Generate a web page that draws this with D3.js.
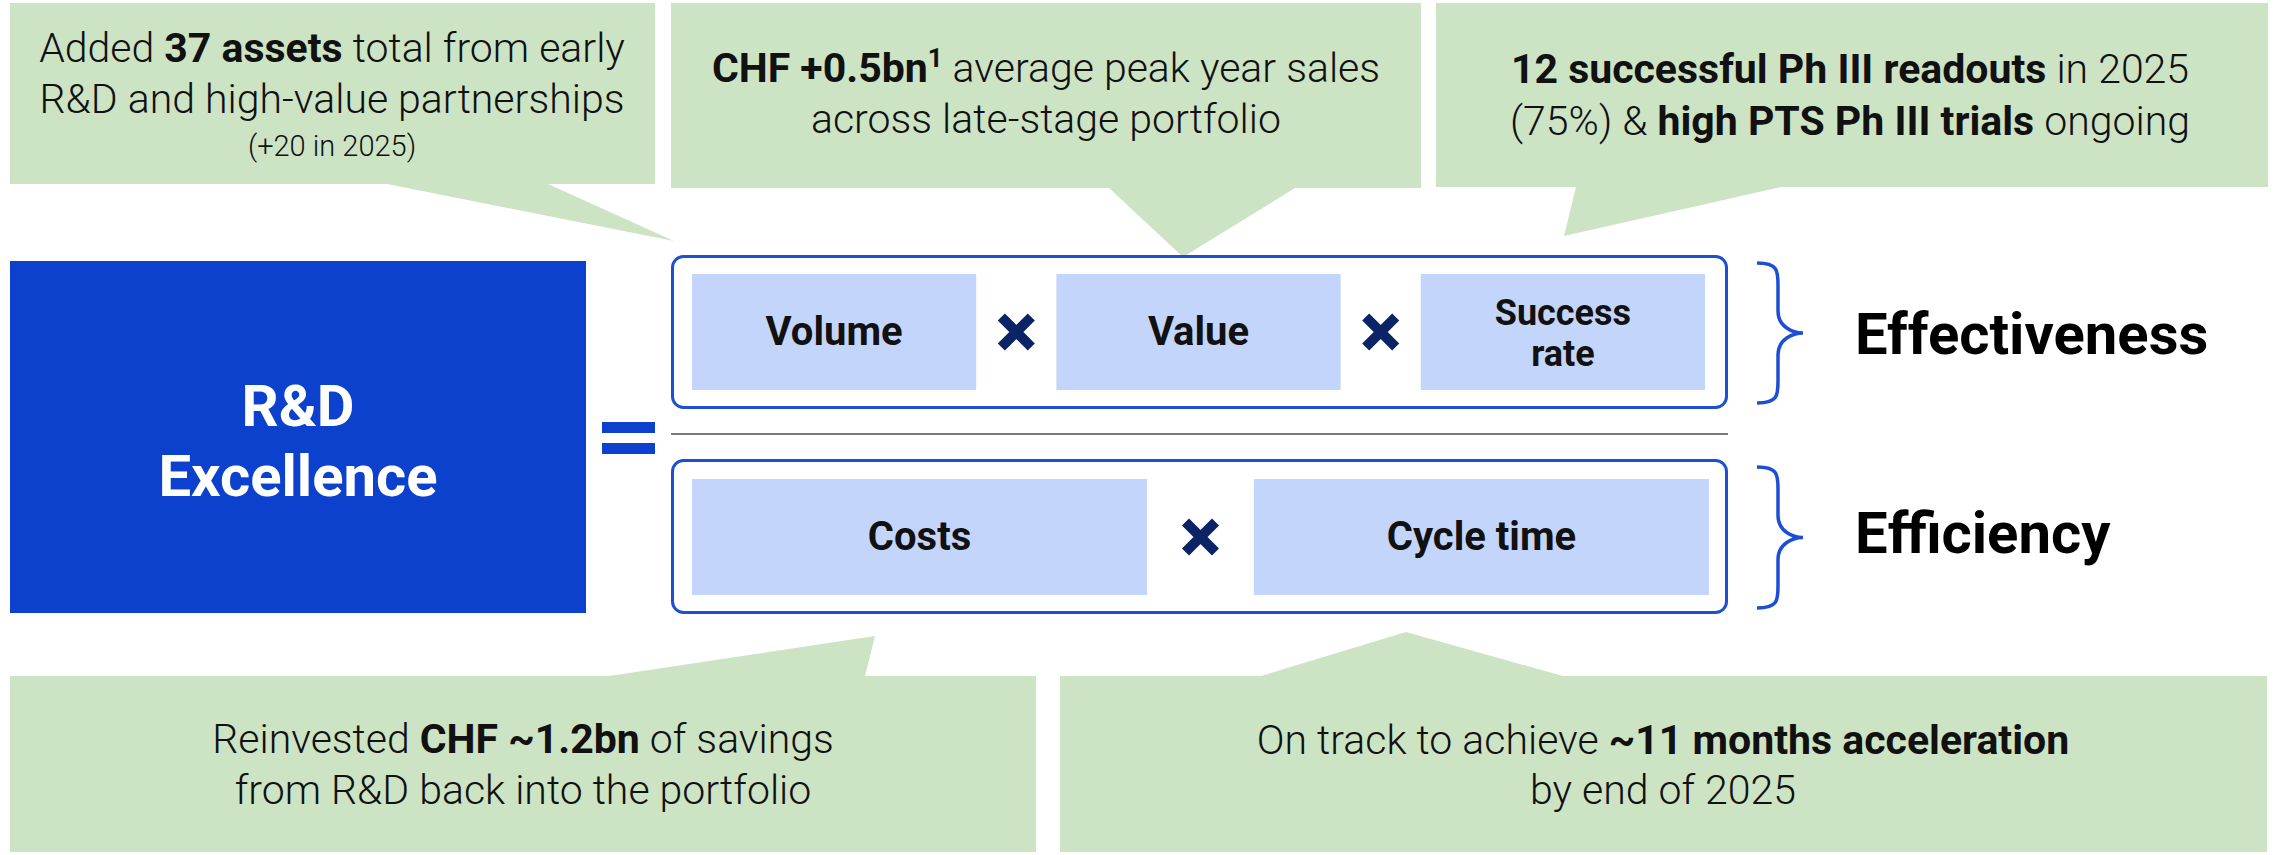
<!DOCTYPE html>
<html>
<head>
<meta charset="utf-8">
<script src="https://cdn.jsdelivr.net/npm/d3@7"></script>
<style>
  body { margin: 0; background: #fff; }
  svg { display: block; }
</style>
</head>
<body>
<script>
// ---- content ----
let topFactors = ["Volume", "Value", "Success rate"];
let bottomFactors = ["Costs", "Cycle time"];
let groupLabels = ["Effectiveness", "Efficiency"];
let mainLabel = ["R&D", "Excellence"];

// callout lines, each line is a list of [text, bold, sup, size]
let callout1 = [
  [["Added ", 0], ["37 assets", 1], [" total from early", 0]],
  [["R&D and high-value partnerships", 0]],
  [["(+20 in 2025)", 0, 0, "small"]]
];
let callout2 = [
  [["CHF +0.5bn", 1], ["1", 1, 1], [" average peak year sales", 0]],
  [["across late-stage portfolio", 0]]
];
let callout3 = [
  [["12 successful Ph III readouts", 1], [" in 2025", 0]],
  [["(75%) & ", 0], ["high PTS Ph III trials", 1], [" ongoing", 0]]
];
let callout4 = [
  [["Reinvested ", 0], ["CHF ~1.2bn", 1], [" of savings", 0]],
  [["from R&D back into the portfolio", 0]]
];
let callout5 = [
  [["On track to achieve ", 0], ["~11 months acceleration", 1]],
  [["by end of 2025", 0]]
];

// ---- layout ----
let width = 2277, height = 855;
let green = "#cce3c4", blue = "#0b41cd", light = "#c4d5fb", navy = "#0a2466", outline = "#1c4fd4";
let font = "Roboto, 'Noto Sans', sans-serif";

let svg = d3.select("body").append("svg")
  .attr("width", width).attr("height", height);

// callouts: box + tail
let callouts = [
  { lines: callout1, x0: 10, x1: 655, y0: 3, y1: 184, side: "bottom", t0: 387, t1: 548, tip: [674, 241], cx: 332, base: [62, 113, 156] },
  { lines: callout2, x0: 671, x1: 1421, y0: 3, y1: 188, side: "bottom", t0: 1109, t1: 1295, tip: [1183, 257], cx: 1046, base: [82, 133] },
  { lines: callout3, x0: 1436, x1: 2268, y0: 3, y1: 187, side: "bottom", t0: 1576, t1: 1781, tip: [1564, 236], cx: 1850, base: [83, 135] },
  { lines: callout4, x0: 10, x1: 1036, y0: 676, y1: 852, side: "top", t0: 609, t1: 865, tip: [875, 636], cx: 523, base: [753, 804] },
  { lines: callout5, x0: 1060, x1: 2267, y0: 676, y1: 852, side: "top", t0: 1261, t1: 1563, tip: [1406, 632], cx: 1663, base: [754, 804] }
];

callouts.forEach(c => {
  let p = d3.path();
  p.moveTo(c.x0, c.y0);
  if (c.side == "top") {
    p.lineTo(c.t0, c.y0); p.lineTo(c.tip[0], c.tip[1]); p.lineTo(c.t1, c.y0);
  }
  p.lineTo(c.x1, c.y0);
  p.lineTo(c.x1, c.y1);
  if (c.side == "bottom") {
    p.lineTo(c.t1, c.y1); p.lineTo(c.tip[0], c.tip[1]); p.lineTo(c.t0, c.y1);
  }
  p.lineTo(c.x0, c.y1);
  p.closePath();
  svg.append("path").attr("d", p.toString()).attr("fill", green);

  c.lines.forEach((line, i) => {
    let t = svg.append("text")
      .attr("x", c.cx).attr("y", c.base[i])
      .attr("text-anchor", "middle")
      .attr("font-family", font)
      .attr("fill", "#111");
    line.forEach((seg, j) => {
      let s = t.append("tspan").text(seg[0])
        .attr("font-weight", seg[1] ? 700 : 300)
        .attr("font-size", seg[3] == "small" ? 29 : 41);
      if (seg[2]) s.attr("font-size", 26).attr("dy", -15);
      else if (j > 0 && line[j - 1][2]) s.attr("dy", 15);
    });
  });
});

// main R&D box
let main = { x0: 10, x1: 586, y0: 261, y1: 613 };
svg.append("rect")
  .attr("x", main.x0).attr("y", main.y0)
  .attr("width", main.x1 - main.x0).attr("height", main.y1 - main.y0)
  .attr("fill", blue);
svg.selectAll("text.main").data(mainLabel).join("text")
  .attr("class", "main")
  .attr("x", (main.x0 + main.x1) / 2)
  .attr("y", (d, i) => 426 + i * 70)
  .attr("text-anchor", "middle")
  .attr("font-family", font).attr("font-weight", 700).attr("font-size", 58)
  .attr("fill", "#fff")
  .text(d => d);

// equals sign
[422, 443].forEach(y => {
  svg.append("rect").attr("x", 602).attr("y", y).attr("width", 53).attr("height", 11).attr("fill", blue);
});

// outer group frames
let groups = [
  { y0: 255, y1: 409, by0: 274, by1: 390, labels: topFactors, range: [692, 1705], pad: 0.22 },
  { y0: 459, y1: 614, by0: 479, by1: 595, labels: bottomFactors, range: [692, 1709], pad: 0.19 }
];
let frameX = [671, 1728];

svg.append("line")
  .attr("x1", frameX[0]).attr("x2", frameX[1])
  .attr("y1", 434).attr("y2", 434)
  .attr("stroke", "#7a7a7a").attr("stroke-width", 2);

function cross(g, cx, cy) {
  let r = 15;
  g.append("path")
    .attr("d", `M${cx - r},${cy - r}L${cx + r},${cy + r}M${cx + r},${cy - r}L${cx - r},${cy + r}`)
    .attr("stroke", navy).attr("stroke-width", 10).attr("fill", "none");
}

groups.forEach((gr, gi) => {
  let g = svg.append("g");
  g.append("rect")
    .attr("x", frameX[0] + 1.5).attr("y", gr.y0 + 1.5)
    .attr("width", frameX[1] - frameX[0] - 3).attr("height", gr.y1 - gr.y0 - 3)
    .attr("rx", 11)
    .attr("fill", "none").attr("stroke", outline).attr("stroke-width", 3);

  let x = d3.scaleBand().domain(gr.labels).range(gr.range).paddingInner(gr.pad);
  g.selectAll("rect.f").data(gr.labels).join("rect")
    .attr("class", "f")
    .attr("x", d => x(d)).attr("y", gr.by0)
    .attr("width", x.bandwidth()).attr("height", gr.by1 - gr.by0)
    .attr("fill", light);

  let cy = (gr.by0 + gr.by1) / 2;
  gr.labels.forEach(d => {
    let words = d == "Success rate" ? ["Success", "rate"] : [d];
    words.forEach((w, i) => {
      g.append("text")
        .attr("x", x(d) + x.bandwidth() / 2)
        .attr("y", cy + 13 - (words.length - 1) * 20.5 + i * 41)
        .attr("text-anchor", "middle")
        .attr("font-family", font).attr("font-weight", 700)
        .attr("font-size", words.length > 1 ? 36 : 40)
        .attr("fill", "#111")
        .text(w);
    });
  });

  for (let i = 0; i < gr.labels.length - 1; i++) {
    let mid = (x(gr.labels[i]) + x.bandwidth() + x(gr.labels[i + 1])) / 2;
    cross(g, mid, cy);
  }

  // curly brace
  let top = gr.y0 + 8, bot = gr.y1 - 6, mid = (top + bot) / 2;
  let bx = 1757, sx = 1778, tx = 1803;
  let b = d3.path();
  b.moveTo(bx, top);
  b.bezierCurveTo(sx, top, sx, top + 8, sx, top + 22);
  b.lineTo(sx, mid - 22);
  b.bezierCurveTo(sx, mid - 6, tx - 10, mid, tx, mid);
  b.bezierCurveTo(tx - 10, mid, sx, mid + 6, sx, mid + 22);
  b.lineTo(sx, bot - 22);
  b.bezierCurveTo(sx, bot - 8, sx, bot, bx, bot);
  g.append("path").attr("d", b.toString())
    .attr("fill", "none").attr("stroke", outline).attr("stroke-width", 3.5);

  g.append("text")
    .attr("x", 1855).attr("y", gi == 0 ? 354 : 553)
    .attr("font-family", font).attr("font-weight", 700).attr("font-size", 58)
    .attr("fill", "#000")
    .text(groupLabels[gi]);
});
</script>
</body>
</html>
